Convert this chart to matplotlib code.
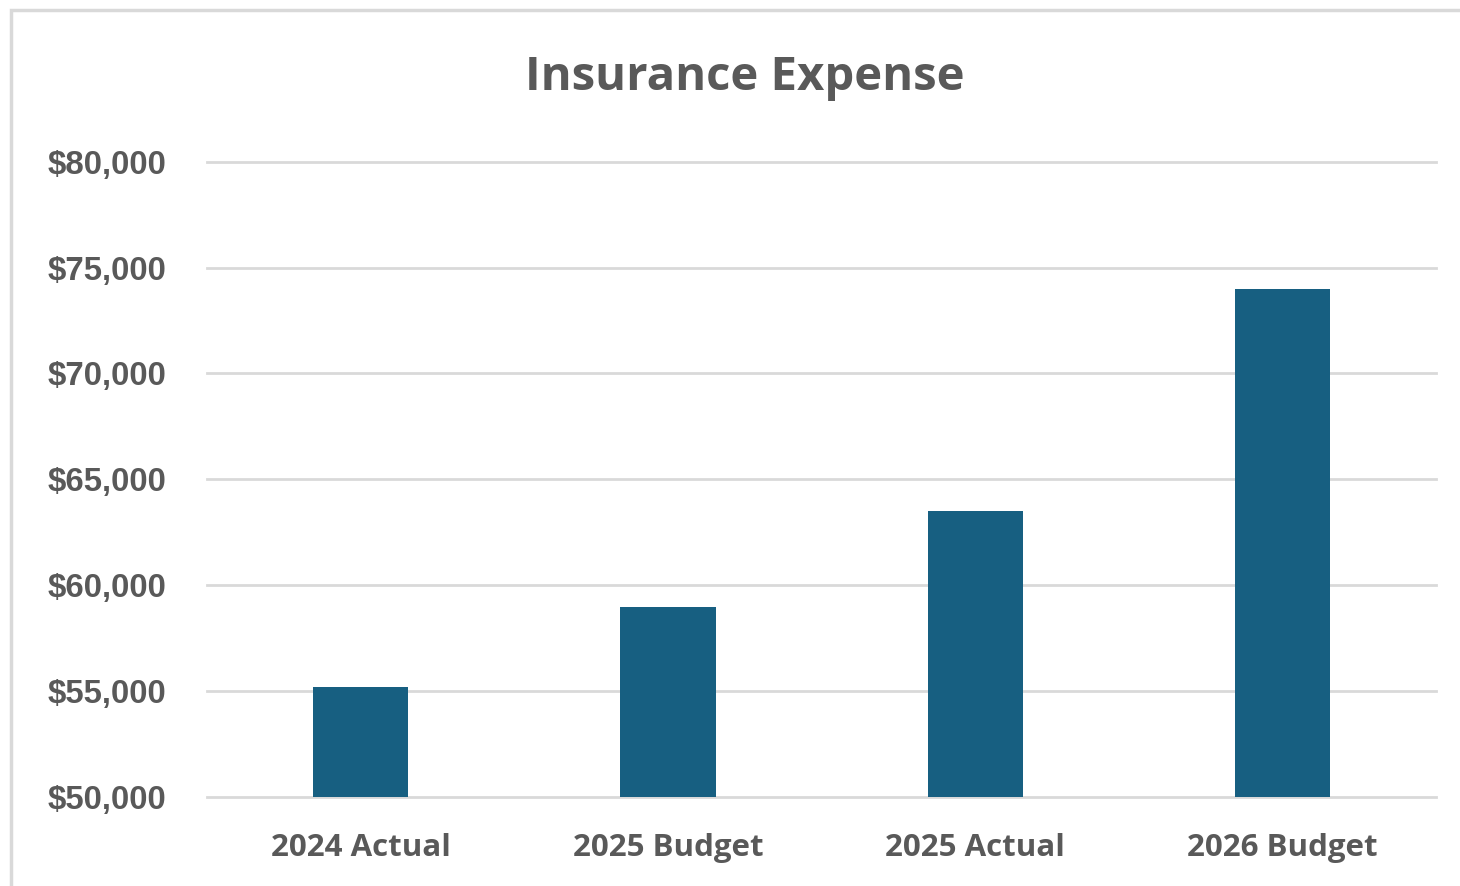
import matplotlib.pyplot as plt
from matplotlib.ticker import FuncFormatter

# Insurance expense by period
categories = ["2024 Actual", "2025 Budget", "2025 Actual", "2026 Budget"]
expense = [55180, 58970, 63520, 73970]

fig = plt.figure(figsize=(14.6, 8.86), dpi=100)
ax = fig.add_axes([0.1418, 0.1005, 0.8418, 0.7170])

ax.bar(range(len(categories)), expense, width=0.31, color="#175f81", zorder=3)

ax.set_xlim(-0.5, len(categories) - 0.5)
ax.set_ylim(50000, 80000)
ax.set_yticks(range(50000, 80001, 5000))
ax.yaxis.set_major_formatter(FuncFormatter(lambda v, p: f"${v:,.0f}"))
ax.set_xticks(range(len(categories)))
ax.set_xticklabels(categories, fontfamily="Open Sans", fontweight="bold",
                   fontsize=22.5, color="#595959")
for lab in ax.get_yticklabels():
    lab.set_fontfamily("Liberation Sans")
    lab.set_fontweight("bold")
    lab.set_fontsize(23.8)
    lab.set_color("#595959")

ax.grid(axis="y", color="#d9d9d9", linewidth=2, zorder=0)
for gl in ax.get_ygridlines():
    gl.set_clip_on(False)
ax.tick_params(axis="both", length=0)
ax.tick_params(axis="y", pad=29)
ax.tick_params(axis="x", pad=26)
for s in ax.spines.values():
    s.set_visible(False)

fig.text(0.510, 0.913, "Insurance Expense", ha="center", va="center",
         fontfamily="Open Sans", fontweight="bold", fontsize=34, color="#595959")

# outer chart border
fig.patches.append(plt.Rectangle((11 / 1460, -0.1), 2, 1.1 - 9.5 / 886,
                                 transform=fig.transFigure, fill=False,
                                 edgecolor="#d9d9d9", linewidth=2.5))

fig.savefig("out.png", dpi=100)
